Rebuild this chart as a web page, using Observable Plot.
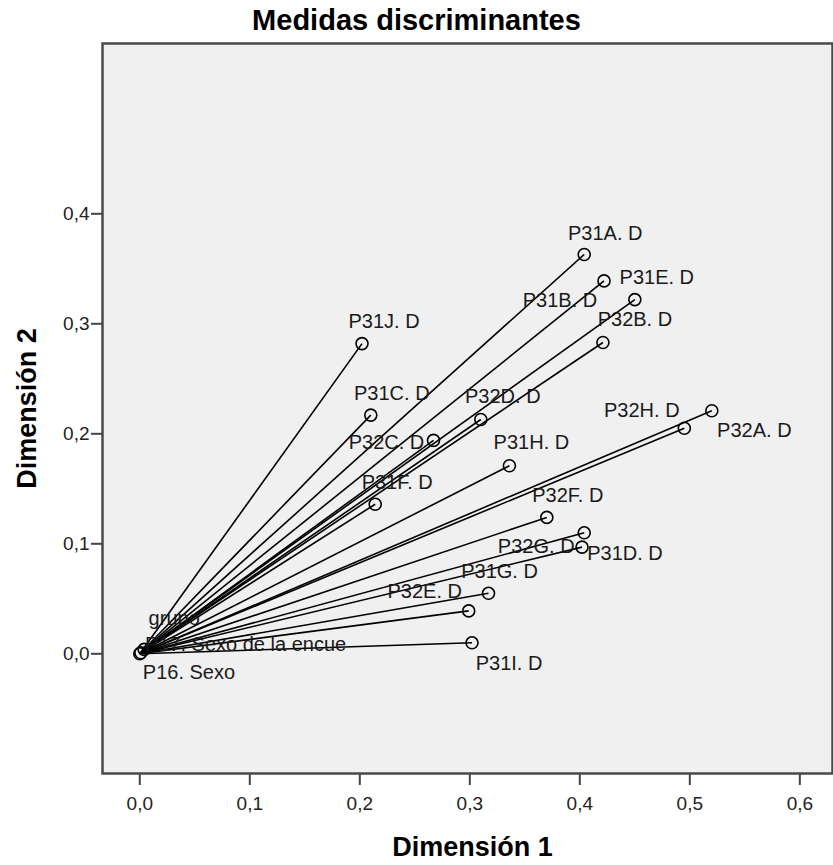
<!DOCTYPE html>
<html>
<head>
<meta charset="utf-8">
<script src="https://cdn.jsdelivr.net/npm/d3@7"></script>
<script src="https://cdn.jsdelivr.net/npm/@observablehq/plot@0.6"></script>
<style>
  body { margin: 0; background: #fff; font-family: "Liberation Sans", Arial, sans-serif; }
  #title { height: 40px; line-height: 40px; text-align: center; font-size: 29px; font-weight: bold; color: #000; width: 833px; }
</style>
</head>
<body>
<div id="title">Medidas discriminantes</div>
<div id="chart"></div>
<script>
// Variables (discrimination measures)
const names = ["P31A. D","P31B. D","P31E. D","P32B. D","P31J. D","P31C. D","P32D. D","P32C. D",
  "P32H. D","P32A. D","P31H. D","P31F. D","P32F. D","P32G. D","P31D. D","P31G. D","P32E. D","P31I. D",
  "grupo","P17. Sexo de la encue","P16. Sexo"];
const dim1 = [0.404,0.422,0.450,0.421,0.202,0.210,0.310,0.267,
  0.520,0.495,0.336,0.214,0.370,0.404,0.402,0.317,0.299,0.302,
  0.004,0.001,0.000];
const dim2 = [0.363,0.339,0.322,0.283,0.282,0.217,0.213,0.194,
  0.221,0.205,0.171,0.136,0.124,0.110,0.097,0.055,0.039,0.010,
  0.004,0.001,0.000];
const xTicks = [0,0.1,0.2,0.3,0.4,0.5,0.6];
const yTicks = [0,0.1,0.2,0.3,0.4];

// Label layout (offsets in pixels from each point), kept apart from the data
const labelLayout = [
  [21,-21,"middle"],[-44,20,"middle"],[22,-22,"middle"],[32,-23,"middle"],[22,-22,"middle"],
  [21,-22,"middle"],[22,-23,"middle"],[-47,2,"middle"],[-70,0,"middle"],[70,2,"middle"],
  [22,-23,"middle"],[22,-22,"middle"],[21,-22,"middle"],[-48,14,"middle"],[43,6,"middle"],
  [11,-22,"middle"],[-44,-19,"middle"],[37,21,"middle"],[30,-31,"middle"],[4,-8,"start"],[3,19,"start"]
];

const points = names.map((n, i) => ({name: n, x: dim1[i], y: dim2[i]}));
const fmt = d => d.toFixed(1).replace(".", ",");
const font = "Liberation Sans, Arial, sans-serif";

const labelMarks = points.map((p, i) => Plot.text([p], {
  x: "x", y: "y", text: "name",
  dx: labelLayout[i][0], dy: labelLayout[i][1], textAnchor: labelLayout[i][2],
  lineAnchor: "middle", fontSize: 20, fill: "#1a1a1a", fontFamily: font
}));

const chart = Plot.plot({
  width: 833,
  height: 825,
  marginLeft: 102,
  marginRight: 1,
  marginTop: 3,
  marginBottom: 92,
  style: {fontFamily: font, background: "#fff", overflow: "visible"},
  x: {domain: [-0.0339, 0.6297], ticks: xTicks, tickFormat: fmt, label: null},
  y: {domain: [-0.1088, 0.5548], ticks: yTicks, tickFormat: fmt, label: null},
  marks: [
    Plot.frame({fill: "#f0f0f0", stroke: "none"}),
    Plot.axisX({ticks: xTicks, tickFormat: fmt, tickSize: 12, tickPadding: 11, fontSize: 19, stroke: "#444", strokeWidth: 2, color: "#222", label: null}),
    Plot.axisY({ticks: yTicks, tickFormat: fmt, tickSize: 11, tickPadding: 2, fontSize: 19, stroke: "#444", strokeWidth: 2, color: "#222", label: null}),
    Plot.link(points, {x1: () => 0, y1: () => 0, x2: "x", y2: "y", stroke: "#000", strokeWidth: 1.6}),
    Plot.dot(points, {x: "x", y: "y", r: 6, stroke: "#000", strokeWidth: 1.6, fill: "none"}),
    ...labelMarks,
    Plot.frame({stroke: "#4a4a4a", strokeWidth: 2.5}),
    Plot.text(["Dimensión 1"], {frameAnchor: "bottom", dx: 5, dy: 74, textAnchor: "middle", lineAnchor: "middle", fontSize: 27, fontWeight: "bold", fill: "#000", fontFamily: font}),
    Plot.text(["Dimensión 2"], {frameAnchor: "left", dx: -75, rotate: -90, textAnchor: "middle", lineAnchor: "middle", fontSize: 27, fontWeight: "bold", fill: "#000", fontFamily: font})
  ]
});
document.getElementById("chart").appendChild(chart);
</script>
</body>
</html>
